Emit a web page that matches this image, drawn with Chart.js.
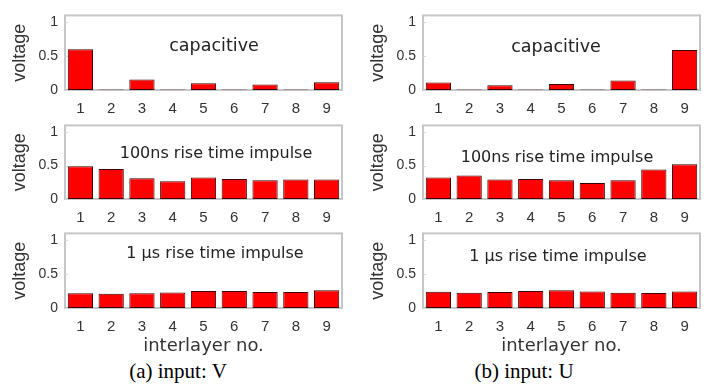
<!DOCTYPE html>
<html>
<head>
<meta charset="utf-8">
<script src="https://cdn.jsdelivr.net/npm/chart.js@4.4.1/dist/chart.umd.min.js"></script>
<style>
body { margin: 0; background: #fff; width: 707px; height: 389px; position: relative; overflow: hidden; }
canvas { position: absolute; }
.note { position: absolute; font-family: "DejaVu Sans", sans-serif; font-size: 16px; color: #222; white-space: nowrap; transform: translate(-50%, -50%); }
.cap { position: absolute; font-family: "Liberation Serif", serif; font-size: 21px; color: #000; white-space: nowrap; transform: translate(-50%, -50%); }
</style>
</head>
<body>
<canvas id="c1" width="346" height="116" style="left:0;top:0"></canvas>
<canvas id="c2" width="346" height="116" style="left:358px;top:0"></canvas>
<canvas id="c3" width="346" height="115" style="left:0;top:110px"></canvas>
<canvas id="c4" width="346" height="115" style="left:358px;top:110px"></canvas>
<canvas id="c5" width="346" height="140" style="left:0;top:218px"></canvas>
<canvas id="c6" width="346" height="140" style="left:358px;top:218px"></canvas>

<div class="note" style="left:214px;top:45px;font-size:17.5px">capacitive</div>
<div class="note" style="left:556px;top:46px;font-size:17.5px">capacitive</div>
<div class="note" style="left:216px;top:152px">100ns rise time impulse</div>
<div class="note" style="left:557px;top:156px">100ns rise time impulse</div>
<div class="note" style="left:215px;top:252px">1 μs rise time impulse</div>
<div class="note" style="left:558px;top:255px">1 μs rise time impulse</div>

<div class="cap" style="left:178px;top:371px">(a) input: V</div>
<div class="cap" style="left:524px;top:371px">(b) input: U</div>

<script>
// interlayer numbers and voltages
var layers = ['1', '2', '3', '4', '5', '6', '7', '8', '9'];
var capV   = [0.60, 0.008, 0.155, 0.008, 0.10, 0.008, 0.08, 0.008, 0.115];
var capU   = [0.11, 0.008, 0.07, 0.008, 0.09, 0.008, 0.14, 0.008, 0.59];
var ns100V = [0.49, 0.45, 0.31, 0.265, 0.32, 0.30, 0.28, 0.29, 0.29];
var ns100U = [0.32, 0.35, 0.29, 0.30, 0.28, 0.24, 0.28, 0.44, 0.52];
var us1V   = [0.217, 0.21, 0.217, 0.23, 0.25, 0.25, 0.235, 0.235, 0.26];
var us1U   = [0.24, 0.226, 0.235, 0.25, 0.26, 0.243, 0.226, 0.22, 0.243];
var yTicks = [0, 0.5, 1];

// gray box round the plot area, small ticks inside
var boxPlugin = {
    id: 'box',
    beforeDatasetsDraw: function (chart) {
        var a = chart.chartArea;
        var ctx = chart.ctx;
        var y = chart.scales.y;
        ctx.save();
        ctx.strokeStyle = '#c6c6c6';
        ctx.lineWidth = 2;
        ctx.strokeRect(a.left, a.top, a.right - a.left, a.bottom - a.top);
        ctx.lineWidth = 1;
        ctx.strokeStyle = '#d8d8d8';
        for (var i = 0; i < yTicks.length; i++) {
            var py = Math.round(y.getPixelForValue(yTicks[i])) + 0.5;
            ctx.beginPath();
            ctx.moveTo(a.left, py);
            ctx.lineTo(a.left + 3, py);
            ctx.stroke();
        }
        ctx.restore();
    }
};

function panel(id, values, xTitle) {
    new Chart(document.getElementById(id), {
        type: 'bar',
        data: {
            labels: layers,
            datasets: [{
                data: values,
                backgroundColor: '#ff0000',
                borderColor: '#3c0000',
                borderWidth: 1,
                borderSkipped: false,
                barPercentage: 0.82,
                categoryPercentage: 1
            }]
        },
        options: {
            responsive: false,
            animation: false,
            events: [],
            layout: {padding: {top: 7, right: 4, left: 0, bottom: 0}},
            plugins: {legend: {display: false}, tooltip: {enabled: false}},
            scales: {
                x: {
                    grid: {display: false, drawTicks: false},
                    border: {display: false},
                    ticks: {color: '#333', font: {family: 'Liberation Sans', size: 15}, padding: 10, maxRotation: 0},
                    title: {
                        display: !!xTitle,
                        text: xTitle || '',
                        color: '#333',
                        font: {family: 'DejaVu Sans', size: 18},
                        padding: {top: 0, bottom: 1}
                    },
                    afterFit: function (s) { s.height = xTitle ? 50 : 26; }
                },
                y: {
                    min: 0,
                    max: 1.1,
                    afterBuildTicks: function (s) {
                        s.ticks = yTicks.map(function (v) { return {value: v}; });
                    },
                    grid: {display: false, drawTicks: false},
                    border: {display: false},
                    ticks: {
                        color: '#333',
                        font: {family: 'Liberation Sans', size: 14},
                        padding: 7,
                        callback: function (v) { return String(v); }
                    },
                    title: {
                        display: true,
                        text: 'voltage',
                        color: '#333',
                        font: {family: 'Liberation Sans', size: 18},
                        padding: {top: 9, bottom: 0}
                    },
                    afterFit: function (s) { s.width = 65; }
                }
            }
        },
        plugins: [boxPlugin]
    });
}

panel('c1', capV);
panel('c2', capU);
panel('c3', ns100V);
panel('c4', ns100U);
panel('c5', us1V, 'interlayer no.');
panel('c6', us1U, 'interlayer no.');
</script>
</body>
</html>
